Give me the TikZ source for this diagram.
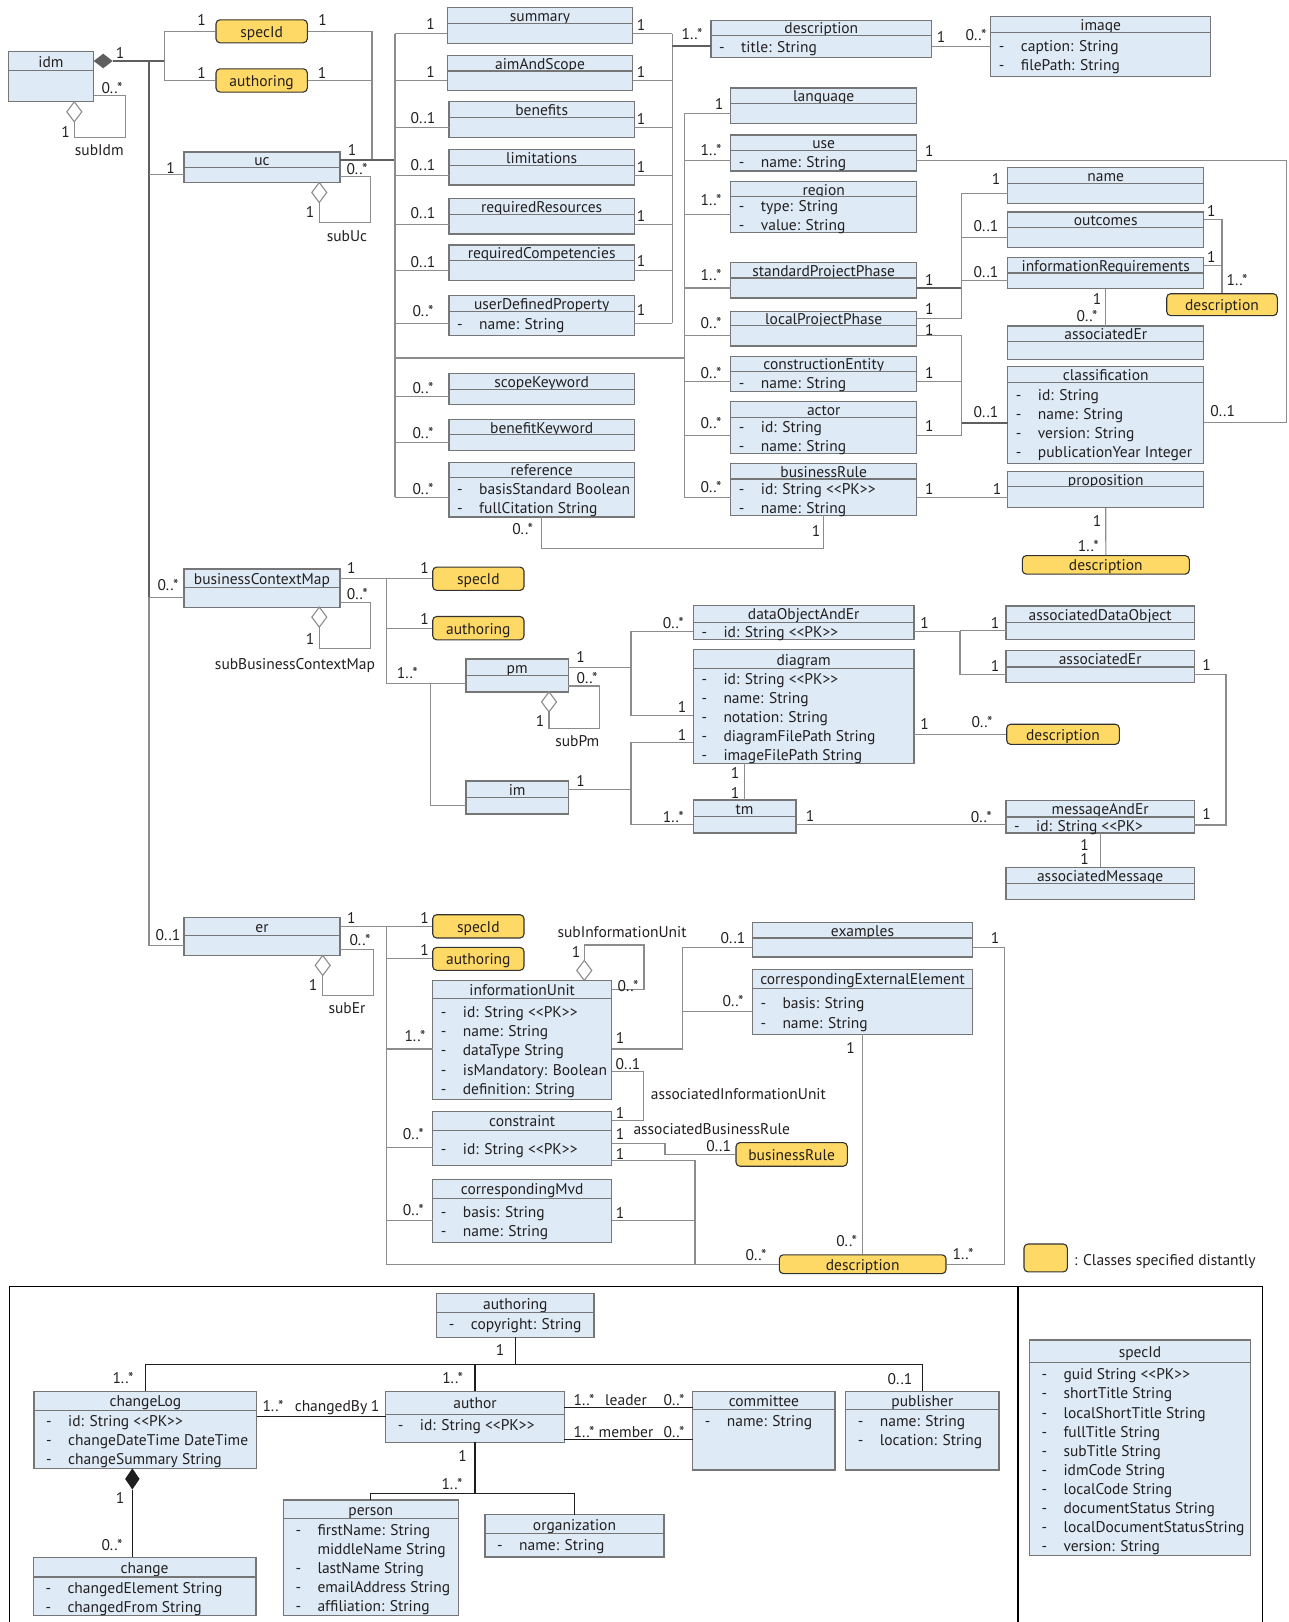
\documentclass[tikz,border=0pt]{standalone}
\usepackage{fontspec}
\setmainfont{PT Sans}
\usepackage{tikz}
\usetikzlibrary{calc}

\definecolor{boxblue}{RGB}{222,235,246}
\definecolor{boxgray}{RGB}{118,118,118}
\definecolor{extfill}{RGB}{255,217,102}
\definecolor{extline}{RGB}{50,50,50}
\definecolor{linegray}{RGB}{140,140,140}
\definecolor{darkline}{RGB}{95,95,95}
\definecolor{blkline}{RGB}{30,30,30}
\definecolor{txtc}{RGB}{35,31,32}

\newcommand\umlfont{\fontsize{15.5}{18}\selectfont}
\def\attrdx{8}
\def\attrtx{30}

\tikzset{
  clshead/.style={draw=boxgray, fill=boxblue, line width=1.2pt, inner sep=0pt, outer sep=0pt, anchor=north west},
  txt/.style={font=\umlfont, text=txtc, inner sep=0pt, text height=12.5pt, text depth=0.5pt},
  extbox/.style={txt, draw=extline, fill=extfill, rounded corners=4pt, line width=1.1pt},
  conn/.style={draw=linegray, line width=1.1pt},
  thk/.style={draw=darkline, line width=2pt},
  hollowdia/.style={draw=linegray, fill=white, line width=1.1pt},
  blk/.style={draw=blkline, line width=1.2pt},
  blkthk/.style={draw=blkline, line width=2pt},
  frm/.style={draw=black, line width=1.3pt},
}

% class box: name, x1, y1, x2, y of divider, y2, title, attributes (y/text)
\newcommand\umlclass[8]{%
  \node[clshead, minimum width={(#4-#2)*1pt}, minimum height={(#5-#3)*1pt}, label={[txt]center:#7}] (#1) at (#2,#3) {};
  \node[clshead, minimum width={(#4-#2)*1pt}, minimum height={(#6-#5)*1pt}] (#1-b) at (#1.south west) {};
  \if\relax\detokenize{#8}\relax\else
  \foreach \ay/\atxt in {#8} {
    \node[txt, anchor=west] at ({#2+\attrdx},\ay) {-};
    \node[txt, anchor=west] at ({#2+\attrtx},\ay) {\atxt};
  }\fi
}
% class specified distantly
\newcommand\extcls[6]{%
  \node[extbox, minimum width={(#4-#2)*1pt}, minimum height={(#5-#3)*1pt}] (#1) at ({(#2+#4)/2},{(#3+#5)/2}) {#6};}
\newcommand\hdia[1]{\draw[hollowdia] (#1) -- ++(7.5,10) -- ++(-7.5,10) -- ++(-7.5,-10) -- cycle;}
\newcommand\pkey{<{}<PK>{}>}

\begin{document}
\begin{tikzpicture}[x=1pt, y=-1pt]
    \useasboundingbox (0,0) rectangle (1289,1622);
    %%
    %% classes, upper part
    \umlclass{idm}{8.3}{51.4}{93.7}{70.6}{101.8}{idm}{}
    \umlclass{uc}{184}{151.9}{340}{167.2}{182.5}{uc}{}
    \umlclass{summary}{447.3}{7.6}{632.7}{23.6}{43.5}{summary}{}
    \umlclass{aim}{447.3}{55.6}{632.7}{70.9}{90.7}{aimAndScope}{}
    \umlclass{benefits}{449}{101.5}{634.3}{117.5}{137.3}{benefits}{}
    \umlclass{limit}{449}{149.5}{634.3}{165.8}{184.9}{limitations}{}
    \umlclass{reqRes}{449}{198.8}{634.3}{214.8}{233.9}{requiredResources}{}
    \umlclass{reqComp}{449}{245}{634.3}{260.7}{280.2}{requiredCompetencies}{}
    \umlclass{udp}{449}{295.5}{634.3}{311.1}{335.4}{userDefinedProperty}{323.3/{name: String}}
    \umlclass{scopeKw}{449}{373.7}{634.3}{389.3}{404.3}{scopeKeyword}{}
    \umlclass{benefitKw}{449}{419.6}{634.3}{434.5}{450.5}{benefitKeyword}{}
    \umlclass{ref}{449}{462.3}{634.3}{477.3}{516.9}{reference}{488.4/{basisStandard Boolean}, 507.5/{fullCitation String}}
    \umlclass{desc}{711}{20.2}{931.7}{35.5}{57.4}{description}{46.9/{title: String}}
    \umlclass{image}{990.7}{16.3}{1210.7}{32.7}{76.5}{image}{45.2/{caption: String}, 64.3/{filePath: String}}
    \umlclass{lang}{730.7}{88}{916.7}{103.2}{123.4}{language}{}
    \umlclass{use}{730.7}{134.9}{916.7}{150.5}{171}{use}{161/{name: String}}
    \umlclass{region}{730.7}{181.4}{916.7}{196.7}{232.2}{region}{205.8/{type: String}, 224.9/{value: String}}
    \umlclass{spp}{730.7}{262.4}{916.7}{278}{297.9}{standardProjectPhase}{}
    \umlclass{lpp}{730.7}{311.8}{916.7}{325.7}{345.9}{localProjectPhase}{}
    \umlclass{ce}{730.7}{356.3}{916.7}{371.2}{391.8}{constructionEntity}{382.4/{name: String}}
    \umlclass{actor}{730.7}{401.5}{916.7}{417.1}{453.6}{actor}{426.5/{id: String}, 445.6/{name: String}}
    \umlclass{br}{730.7}{463.3}{916.7}{479}{515.1}{businessRule}{488.4/{id: String \pkey}, 507.5/{name: String}}
    \umlclass{name}{1007.7}{167.5}{1203.8}{183.2}{203.3}{name}{}
    \umlclass{outc}{1007.7}{212}{1203.8}{227.7}{247.5}{outcomes}{}
    \umlclass{infoReq}{1007.7}{257.2}{1203.8}{272.9}{288.5}{informationRequirements}{}
    \umlclass{aerA}{1007.7}{326}{1203.8}{341.7}{359.8}{associatedEr}{}
    \umlclass{cls}{1007.7}{366.7}{1203.8}{382.4}{463.3}{classification}{394.5/{id: String}, 413.6/{name: String}, 432.8/{version: String}, 451.9/{publicationYear Integer}}
    \umlclass{prop}{1007.7}{471.7}{1203.8}{486.6}{507.5}{proposition}{}
    \extcls{specY1}{216}{19.8}{307.3}{42.8}{specId}
    \extcls{authY1}{216}{68.8}{307.3}{92.1}{authoring}
    \extcls{descY1}{1166.7}{293.7}{1277.3}{315.6}{description}
    \extcls{descY2}{1022.3}{555.6}{1189.3}{574.1}{description}
    %% classes, middle part
    \umlclass{bcm}{184}{568.9}{340}{587.6}{607.1}{businessContextMap}{}
    \umlclass{pm}{466}{658.9}{568.3}{675.6}{691.9}{pm}{}
    \umlclass{im}{466}{780.9}{568.3}{797.2}{813.9}{im}{}
    \umlclass{doe}{693.3}{605.3}{914}{622.4}{639.8}{dataObjectAndEr}{631.4/{id: String \pkey}}
    \umlclass{diagram}{693.3}{649.5}{914}{668.6}{763.2}{diagram}{678.3/{id: String \pkey}, 697.1/{name: String}, 716.6/{notation: String}, 735.7/{diagramFilePath String}, 754.8/{imageFilePath String}}
    \umlclass{tm}{693.3}{800}{796}{816.3}{833}{tm}{}
    \umlclass{ado}{1006}{606}{1194.3}{622.4}{639.1}{associatedDataObject}{}
    \umlclass{aerB}{1006}{650.5}{1194.3}{666.9}{682.5}{associatedEr}{}
    \umlclass{mae}{1006}{800.7}{1194.3}{817}{833}{messageAndEr}{825.7/{id: String <{}<PK>}}
    \umlclass{am}{1006}{867.4}{1194.3}{883.4}{899.8}{associatedMessage}{}
    \extcls{specY2}{432.7}{567.1}{524}{590.4}{specId}
    \extcls{authY2}{432.7}{616.5}{524}{639.8}{authoring}
    \extcls{descY3}{1006.7}{724.2}{1119.3}{744.4}{description}
    %% classes, er part
    \umlclass{er}{184}{917.1}{340}{935.6}{955.4}{er}{}
    \umlclass{iu}{432.7}{980.4}{611.7}{998.8}{1099.1}{informationUnit}{1011.7/{id: String \pkey}, 1030.8/{name: String}, 1049.9/{dataType String}, 1069/{isMandatory: Boolean}, 1088.7/{definition: String}}
    \umlclass{con}{432.7}{1111.3}{611.7}{1130.4}{1165.2}{constraint}{1148.5/{id: String \pkey}}
    \umlclass{cmvd}{432.7}{1179.1}{611.7}{1198.2}{1242.7}{correspondingMvd}{1211.4/{basis: String}, 1230.5/{name: String}}
    \umlclass{ex}{752.3}{922.4}{972.7}{938}{957}{examples}{}
    \umlclass{cee}{752.3}{969.3}{972.7}{988.4}{1034.3}{correspondingExternalElement}{1002.3/{basis: String}, 1022.1/{name: String}}
    \extcls{specY3}{432.7}{914.7}{524}{938}{specId}
    \extcls{authY3}{432.7}{947.4}{524}{970.3}{authoring}
    \extcls{brY}{736}{1142.6}{847.3}{1166.2}{businessRule}
    \extcls{descY4}{779.3}{1254.8}{946}{1273.6}{description}
    \extcls{legY}{1024}{1244}{1067.3}{1271.9}{}
    \node[txt, anchor=west] (legT) at (1074,1259.7) {: Classes specified distantly};
    %% classes, lower frame
    \def\attrdx{12}\def\attrtx{34}
    \umlclass{authBox}{436.7}{1293.8}{594}{1312.2}{1337.2}{authoring}{1323.3/{copyright: String}}
    \umlclass{chl}{34}{1391.1}{256.7}{1410.2}{1468.3}{changeLog}{1420.6/{id: String \pkey}, 1439.8/{changeDateTime DateTime}, 1458.9/{changeSummary String}}
    \umlclass{chg}{33.3}{1557.3}{256}{1577}{1615.3}{change}{1587.5/{changedElement String}, 1606.6/{changedFrom String}}
    \umlclass{author}{385.7}{1391.1}{564.3}{1414.4}{1442.2}{author}{1424.1/{id: String \pkey}}
    \umlclass{comm}{692.7}{1391.1}{835}{1409.5}{1470}{committee}{1420.6/{name: String}}
    \umlclass{pub}{845.7}{1391.1}{999}{1409.5}{1470}{publisher}{1420.6/{name: String}, 1439.8/{location: String}}
    \umlclass{person}{283.3}{1499.9}{458.3}{1518.7}{1615.3}{person}{1529.1/{firstName: String}, 1567.7/{lastName String}, 1586.8/{emailAddress String}, 1605.9/{affiliation: String}}
    \node[txt, anchor=west] (midName) at (317.3,1548.6) {middleName String};
    \umlclass{org}{485}{1514.5}{664}{1533.6}{1556.9}{organization}{1544/{name: String}}
    \umlclass{specBox}{1029.3}{1340}{1250.7}{1362.3}{1555.5}{specId}{1373.7/{guid String \pkey}, 1392.8/{shortTitle String}, 1412/{localShortTitle String}, 1431.1/{fullTitle String}, 1450.2/{subTitle String}, 1469.3/{idmCode String}, 1488.4/{localCode String}, 1507.5/{documentStatus String}, 1526.7/{localDocumentStatusString}, 1545.8/{version: String}}
    \draw[frm] (9.3,1622) -- (9.3,1286.8) -- (1262.3,1286.8) -- (1262.3,1622);
    \draw[frm] (1018,1286.8) -- (1018,1622);
    %%
    %% junctions
    \coordinate (trunk) at (149,0);
    \coordinate (brA) at (164.7,0);
    \coordinate (brS) at (372,0);
    \coordinate (busA) at (395,0);
    \coordinate (jAC) at (395,358);
    \coordinate (busB) at (672.3,0);
    \coordinate (busC) at (684.3,0);
    \coordinate (busN) at (961.7,0);
    \coordinate (farR) at (1286.7,0);
    \coordinate (jRef) at (0,548.7);
    \coordinate (busM) at (386.7,0);
    \coordinate (busP) at (430.7,0);
    \coordinate (busQ) at (631,0);
    \coordinate (jDg) at (631,742.7);
    \coordinate (busX) at (960,0);
    \coordinate (busY) at (1226,0);
    \coordinate (busH) at (682.3,0);
    \coordinate (busF) at (695,0);
    \coordinate (busG) at (1004.3,0);
    \coordinate (jTop) at (0,1364.3);
    \coordinate (jCB) at (0,1416.5);
    \coordinate (jLd) at (0,1407.4);
    \coordinate (jMb) at (0,1439.8);
    \coordinate (jOrg) at (0,1493.6);
    \coordinate (dCh) at ([xshift=-13pt]chl-b.south);
    %%
    %% idm
    \fill[darkline] (idm.east) -- ++(9.5,-7.3) -- ++(9.5,7.3) -- ++(-9.5,7.3) -- cycle;
    \draw[thk] ([xshift=19pt]idm.east) -- (brA |- idm.east);
    \draw[thk] (trunk |- idm.east) -- (trunk |- bcm-b.west);
    \draw[conn] (trunk |- bcm-b.west) -- (trunk |- er-b.west) -- (er-b.west);
    \draw[conn] (trunk |- bcm-b.west) -- (bcm-b.west);
    \draw[conn] (trunk |- uc-b.west) -- (uc-b.west);
    \draw[conn] (specY1.west) -- (brA |- specY1.west) -- (brA |- authY1.west) -- (authY1.west);
    \draw[conn] (specY1.east) -- (brS |- specY1.east) -- (brS |- uc.east);
    \draw[conn] (authY1.east) -- (brS |- authY1.east);
    \draw[thk] (uc.east) -- (busA |- uc.east);
    % self loops
    \draw[conn] ([yshift=-9.4pt]idm-b.east) -| ++(31.6,41.7) -| ([xshift=23.3pt,yshift=-20pt]idm-b.south);
    \hdia{[xshift=23.3pt]idm-b.south}
    \draw[conn] ([yshift=-1.8pt]uc-b.east) -| ++(30.7,45.9) -| ([xshift=57.3pt,yshift=-20pt]uc-b.south);
    \hdia{[xshift=57.3pt]uc-b.south}
    \draw[conn] ([yshift=-5.2pt]bcm-b.east) -| ++(30.7,45.9) -| ([xshift=57.3pt,yshift=-20pt]bcm-b.south);
    \hdia{[xshift=57.3pt]bcm-b.south}
    \draw[conn] ([yshift=-2.2pt]pm-b.east) -| ++(31,42.4) -| ([xshift=31.85pt,yshift=-20pt]pm-b.south);
    \hdia{[xshift=31.85pt]pm-b.south}
    \draw[conn] ([yshift=-4pt]er-b.east) -| ++(33.3,45.9) -| ([xshift=60.7pt,yshift=-20pt]er-b.south);
    \hdia{[xshift=60.7pt]er-b.south}
    \draw[conn] (iu.east) -| ++(32.3,-44.6) -| ([xshift=62.1pt,yshift=20pt]iu.north);
    \hdia{[xshift=62.1pt,yshift=20pt]iu.north}
    %% uc buses
    \draw[conn] (busA |- summary-b.west) -- (busA |- ref-b.west);
    \foreach \n in {summary,aim,benefits,limit,reqRes,reqComp,udp,scopeKw,benefitKw,ref}
    {
    \draw[conn] (\n-b.west) -- (busA |- \n-b.west);
    }
    \foreach \n in {summary,aim,benefits,limit,reqRes,reqComp,udp}
    {
    \draw[conn] (\n-b.east) -- (busB |- \n-b.east);
    }
    \draw[conn] (busB |- summary-b.east) -- (busB |- udp-b.east);
    \draw[thk] (busB |- desc-b.west) -- (desc-b.west);
    \draw[conn] (desc-b.east) -- (desc-b.east -| image.west);
    \draw[conn] (ref-b.south) -- (ref-b.south |- jRef) -| (br-b.south);
    \draw[conn] (jAC) -- (busC |- jAC);
    \draw[conn] (busC |- lang-b.west) -- (busC |- br-b.west);
    \foreach \n in {lang,use,region,spp,lpp,ce,actor,br}
    {
    \draw[conn] (\n-b.west) -- (busC |- \n-b.west);
    }
    \draw[conn] (use-b.east) -- (farR |- use-b.east) -- (farR |- cls-b.east) -- (cls-b.east);
    \draw[thk] (spp-b.east) -- (busN |- spp-b.east);
    \draw[conn] (busN |- name-b.west) -- (busN |- lpp.east) -- (lpp.east);
    \foreach \n in {name,outc,infoReq}
    {
    \draw[conn] (\n-b.west) -- (busN |- \n-b.west);
    }
    \draw[conn] (lpp-b.east) -- (busN |- lpp-b.east) -- (busN |- actor-b.east) -- (actor-b.east);
    \draw[conn] (ce-b.east) -- (busN |- ce-b.east);
    \draw[thk] (busN |- cls-b.west) -- (cls-b.west);
    \draw[conn] (outc.east) -| (descY1.north);
    \draw[conn] (infoReq.east) -- (descY1.north |- infoReq.east);
    \draw[conn] (infoReq-b.south) -- (aerA.north);
    \draw[conn] (br-b.east) -- (br-b.east -| prop-b.west);
    \draw[conn] (prop-b.south) -- (descY2.north);
    %% businessContextMap
    \draw[conn] (bcm.east) -- (busM |- bcm.east) -- (busM |- pm-b.west) -- (pm-b.west);
    \draw[conn] (specY2.west) -- (busM |- specY2.west);
    \draw[conn] (authY2.west) -- (busM |- authY2.west);
    \draw[conn] (busP |- pm-b.west) -- (busP |- im-b.west) -- (im-b.west);
    \draw[conn] (pm.east) -- (busQ |- pm.east);
    \draw[conn] (doe-b.west) -- (busQ |- doe-b.west) -- (busQ |- diagram-b.west) -- (diagram-b.west);
    \draw[conn] (im.east) -- (busQ |- im.east);
    \draw[conn] (jDg -| diagram.west) -- (jDg) -- (busQ |- tm-b.west) -- (tm-b.west);
    \draw[conn] (doe-b.east) -- (busX |- doe-b.east) -- (busX |- aerB-b.west) -- (aerB-b.west);
    \draw[conn] (ado-b.west) -- (busX |- ado-b.west);
    \draw[conn] (aerB-b.east) -- (busY |- aerB-b.east) -- (busY |- mae-b.east) -- (mae-b.east);
    \draw[conn] (descY3.west -| diagram.east) -- (descY3.west);
    \draw[conn] (tm.north |- diagram-b.south) -- (tm.north);
    \draw[conn] (tm-b.east) -- (tm-b.east -| mae-b.west);
    \draw[conn] (mae-b.south) -- (am.north);
    %% er
    \draw[conn] (er.east) -- (busM |- er.east) -- (busM |- descY4.west) -- (descY4.west);
    \foreach \n in {specY3,authY3}
    {
    \draw[conn] (\n.west) -- (busM |- \n.west);
    }
    \foreach \n in {iu,con,cmvd}
    {
    \draw[conn] (\n-b.west) -- (busM |- \n-b.west);
    }
    \draw[conn] (iu-b.east) -- (busH |- iu-b.east) -- (busH |- ex-b.west) -- (ex-b.west);
    \draw[conn] (cee-b.west) -- (busH |- cee-b.west);
    \draw[conn] (con.east) -| ++(31.6,-49.1) -- ([yshift=-22.8pt]iu-b.east);
    \draw[conn] ([yshift=4.2pt]con-b.east) -- ++(53.3,0) |- (brY.west);
    \draw[conn] ([yshift=-12.8pt]con-b.east) -| (busF |- descY4.west);
    \draw[conn] (cmvd-b.east) -- (busF |- cmvd-b.east);
    \draw[conn] (cee-b.south) -- (cee-b.south |- descY4.north);
    \draw[conn] (ex-b.east) -- (busG |- ex-b.east) -- (busG |- descY4.east) -- (descY4.east);
    %% lower frame
    \draw[blk] (authBox-b.south) -- (authBox-b.south |- jTop);
    \draw[blk] (chl.north) -- (chl.north |- jTop) -- (pub.north |- jTop) -- (pub.north);
    \draw[blk] (author.north) -- (author.north |- jTop);
    \draw[blk] (chl-b.east |- jCB) -- (author-b.west |- jCB);
    \draw[blk] (author.east |- jLd) -- (comm.west |- jLd);
    \draw[blk] (author-b.east |- jMb) -- (comm-b.west |- jMb);
    \fill[blkline] (dCh) -- ++(7.2,10.6) -- ++(-7.2,10.6) -- ++(-7.2,-10.6) -- cycle;
    \draw[blk] ([yshift=-21.2pt]dCh) -- (dCh |- chg.north);
    \draw[blkthk] (author-b.south) -- (author-b.south |- jOrg);
    \draw[blk] (person.north) -- (person.north |- jOrg) -- (org.north |- jOrg) -- (org.north);
    %%
    %% multiplicities and role names
    \foreach \lbx/\lby/\lbt in {120/52/{1}, 112/87/{0..*}, 65.7/131.4/{1}, 201.7/19.8/{1}, 322.7/19.8/{1}, 201.7/72/{1}, 322/72/{1}, 170.7/167.9/{1}, 352/149.5/{1}, 357/168.6/{0..*}, 310/211/{1},
      430.7/23.6/{1}, 430.7/71.3/{1}, 423/117.5/{0..1}, 423/164/{0..1}, 423/212/{0..1}, 423/261.4/{0..1}, 423/310.4/{0..*}, 423/387.6/{0..*}, 423/432/{0..*}, 423/488.4/{0..*},
      641/24.3/{1}, 641/71.3/{1}, 641/118.2/{1}, 641/166/{1}, 641/215.5/{1}, 641/260/{1}, 641/309.4/{1},
      692/33.7/{1..*}, 941/36.5/{1}, 976/34.8/{0..*}, 522.7/528.4/{0..*}, 816/530/{1},
      719/103.2/{1}, 711/149.5/{1..*}, 711/199.9/{1..*}, 711/274.6/{1..*}, 711/322.2/{0..*}, 711/372/{0..*}, 711/422.3/{0..*}, 711/486.6/{0..*},
      929.3/150.5/{1}, 929.3/279/{1}, 929.3/308.7/{1}, 929.3/329.2/{1}, 929.3/372.6/{1}, 929.3/425.8/{1}, 929.3/488.4/{1},
      996/178/{1}, 986/225/{0..1}, 986/271.1/{0..1}, 986/411.2/{0..1}, 1211.3/210.3/{1}, 1211.3/256.2/{1}, 1237/279.8/{1..*}, 1097/298.2/{1}, 1087/315.6/{0..*}, 1222.7/410.2/{0..1}, 997/488.4/{1}, 1097/520.4/{1}, 1088.3/545.2/{1..*}}
    {
    \node[txt] at (\lbx,\lby) {\lbt};
    }
    \foreach \lbx/\lby/\lbt in {168/584.5/{0..*}, 351.3/567.8/{1}, 357.3/593.9/{0..*}, 310/638/{1}, 424.7/567.1/{1}, 424.7/618.2/{1}, 407.3/672.8/{1..*}, 580.7/656.4/{1}, 587/677.3/{0..*}, 540/720.8/{1}, 580.7/780.5/{1},
      673.3/622.4/{0..*}, 682/706.8/{1}, 682/734.7/{1}, 673.3/816.3/{1..*}, 924.7/622.4/{1}, 995/622.7/{1}, 995/665.1/{1}, 1206.7/664.1/{1}, 1206.7/813.6/{1}, 924.7/723.2/{1}, 982/721.4/{0..*}, 735/772.2/{1}, 735/792/{1}, 810/815.3/{1}, 981.3/816.3/{0..*}, 1084.7/844.2/{1}, 1084.7/858/{1},
      168/934.5/{0..1}, 351.3/917.1/{1}, 360/939.7/{0..*}, 313/984.2/{1}, 424.7/917.1/{1}, 424.7/949.5/{1}, 415/1035.3/{1..*}, 413.3/1133.9/{0..*}, 413.3/1209.3/{0..*}, 576/951.9/{1}, 628/985.6/{0..*}, 620/1037/{1}, 628/1063.1/{0..1}, 733/937.3/{0..1}, 733/1000.6/{0..*},
      620/1112/{1}, 620/1133.2/{1}, 620/1153/{1}, 620/1212.1/{1}, 718.7/1145.3/{0..1}, 850.7/1047.5/{1}, 846.7/1240.6/{0..*}, 756/1254.8/{0..*}, 995/937.3/{1}, 963/1253.8/{1..*},
      500/1349.4/{1}, 123/1377.2/{1..*}, 452.7/1377.2/{1..*}, 900/1378.2/{0..1}, 273/1405/{1..*}, 331/1405/{changedBy}, 375/1405/{1}, 584/1399.1/{1..*}, 626/1399.1/{leader}, 674/1399.1/{0..*}, 584/1431/{1..*}, 626/1431/{member}, 674/1431/{0..*},
      120/1497.1/{1}, 112/1544.7/{0..*}, 462.7/1455.4/{1}, 452/1483.2/{1..*}}
    {
    \node[txt] at (\lbx,\lby) {\lbt};
    }
    \node[txt] (rIdm) at (99.3,149.5) {subIdm};
    \node[txt] (rUc) at (347,235) {subUc};
    \node[txt] (rBcm) at (295,663.4) {subBusinessContextMap};
    \node[txt] (rPm) at (577.3,740.9) {subPm};
    \node[txt] (rEr) at (347,1007.5) {subEr};
    \node[txt, anchor=west] (rIu) at (557.3,931.1) {subInformationUnit};
    \node[txt, anchor=west] (rAiu) at (650.7,1093.9) {associatedInformationUnit};
    \node[txt, anchor=west] (rAbr) at (633.3,1128.7) {associatedBusinessRule};
\end{tikzpicture}
\end{document}
